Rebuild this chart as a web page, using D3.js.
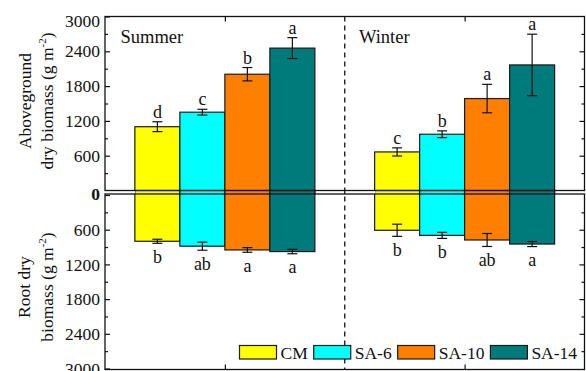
<!DOCTYPE html>
<html>
<head>
<meta charset="utf-8">
<script src="https://cdn.jsdelivr.net/npm/d3@7"></script>
<style>
  body { margin: 0; background: #fff; }
  text { font-family: "Liberation Serif", "Times New Roman", serif; fill: #111; }
</style>
</head>
<body>
<div id="chart"></div>
<script>
// data
var seasons = ["Summer", "Winter"];
var treatments = ["CM", "SA-6", "SA-10", "SA-14"];
var colors = ["#ffff00", "#00ffff", "#ff7f00", "#007b7b"];

var aboveSummer = [1100, 1350, 2005, 2455];
var aboveSummerErr = [85, 50, 115, 180];
var aboveSummerLetters = ["d", "c", "b", "a"];
var aboveWinter = [665, 970, 1585, 2165];
var aboveWinterErr = [70, 58, 245, 530];
var aboveWinterLetters = ["c", "b", "a", "a"];

var rootSummer = [800, 885, 950, 978];
var rootSummerErr = [35, 70, 40, 38];
var rootSummerLetters = ["b", "ab", "a", "a"];
var rootWinter = [610, 698, 778, 848];
var rootWinterErr = [105, 52, 112, 44];
var rootWinterLetters = ["b", "b", "ab", "a"];

var yTicks = [0, 600, 1200, 1800, 2400, 3000];
var yMinor = [300, 900, 1500, 2100, 2700];

var W = 586, H = 371;
var left = 105, right = 584.5;
var topY0 = 16.5, topY1 = 190.5;   // upper panel
var botY0 = 194, botY1 = 369.5;    // lower panel

var svg = d3.select("#chart").append("svg")
    .attr("width", W)
    .attr("height", H);

var x = d3.scaleBand().domain(seasons).range([left, right]);
var xInner = d3.scaleBand().domain(treatments).range([0, 180]);

var yTop = d3.scaleLinear().domain([0, 3000]).range([topY1, topY0]);
var yBot = d3.scaleLinear().domain([0, 3000]).range([195, 368.5]);

function groupX(s) { return x(s) + x.bandwidth() / 2 - 90; }

// build rows
var rows = [];
[[aboveSummer, aboveSummerErr, aboveSummerLetters, "Summer", "top"],
 [aboveWinter, aboveWinterErr, aboveWinterLetters, "Winter", "top"],
 [rootSummer, rootSummerErr, rootSummerLetters, "Summer", "bot"],
 [rootWinter, rootWinterErr, rootWinterLetters, "Winter", "bot"]].forEach(function(g) {
  g[0].forEach(function(v, i) {
    rows.push({season: g[3], panel: g[4], t: treatments[i], c: colors[i], v: v, e: g[1][i], l: g[2][i]});
  });
});

// dashed divider
svg.append("line")
  .attr("x1", x("Winter")).attr("x2", x("Winter"))
  .attr("y1", topY0).attr("y2", botY1)
  .attr("stroke", "#111").attr("stroke-width", 1.3)
  .attr("stroke-dasharray", "5,4");

// bars (they run through the gap between the panels)
svg.append("g").selectAll("rect")
  .data(rows)
  .enter().append("rect")
    .attr("x", function(d) { return groupX(d.season) + xInner(d.t); })
    .attr("width", xInner.bandwidth())
    .attr("y", function(d) { return d.panel == "top" ? yTop(d.v) : topY1; })
    .attr("height", function(d) { return d.panel == "top" ? botY0 - yTop(d.v) : yBot(d.v) - topY1; })
    .attr("fill", function(d) { return d.c; })
    .attr("stroke", "#1a1a1a")
    .attr("stroke-width", 1.2);

// white gap between panels
svg.append("rect").attr("x", left).attr("y", topY1).attr("width", 30).attr("height", botY0 - topY1).attr("fill", "#fff");
svg.append("rect").attr("x", 316.5).attr("y", topY1).attr("width", 58.5).attr("height", botY0 - topY1).attr("fill", "#fff");
svg.append("rect").attr("x", 557).attr("y", topY1).attr("width", right - 557).attr("height", botY0 - topY1).attr("fill", "#fff");
svg.append("line").attr("x1", x("Winter")).attr("x2", x("Winter")).attr("y1", topY1).attr("y2", botY0).attr("stroke", "#111").attr("stroke-width", 1.3);

// error bars
function ey(d, val) { return d.panel == "top" ? yTop(val) : yBot(val); }
var eb = svg.append("g").selectAll("g")
  .data(rows)
  .enter().append("g")
    .attr("transform", function(d) { return "translate(" + (groupX(d.season) + xInner(d.t) + xInner.bandwidth() / 2) + ",0)"; });
eb.append("line")
  .attr("y1", function(d) { return ey(d, d.v - d.e); })
  .attr("y2", function(d) { return ey(d, d.v + d.e); })
  .attr("stroke", "#111").attr("stroke-width", 1.2);
eb.append("line")
  .attr("x1", -5).attr("x2", 5)
  .attr("y1", function(d) { return ey(d, d.v - d.e); })
  .attr("y2", function(d) { return ey(d, d.v - d.e); })
  .attr("stroke", "#111").attr("stroke-width", 1.2);
eb.append("line")
  .attr("x1", -5).attr("x2", 5)
  .attr("y1", function(d) { return ey(d, d.v + d.e); })
  .attr("y2", function(d) { return ey(d, d.v + d.e); })
  .attr("stroke", "#111").attr("stroke-width", 1.2);

// significance letters
eb.append("text")
  .attr("text-anchor", "middle")
  .style("font-size", "18px")
  .attr("y", function(d) { return d.panel == "top" ? yTop(d.v + d.e) - 4 : yBot(d.v + d.e) + 19.5; })
  .text(function(d) { return d.l; });

// frames
svg.append("rect").attr("x", left).attr("y", topY0).attr("width", right - left).attr("height", topY1 - topY0)
  .attr("fill", "none").attr("stroke", "#111").attr("stroke-width", 1.3);
svg.append("rect").attr("x", left).attr("y", botY0).attr("width", right - left).attr("height", botY1 - botY0)
  .attr("fill", "none").attr("stroke", "#111").attr("stroke-width", 1.3);

// y axes
function styleAxis(g) {
  g.select(".domain").remove();
  g.selectAll(".tick line").attr("stroke", "#111").attr("stroke-width", 1.2);
  g.selectAll("text").style("font-size", "17.5px").attr("fill", "#111");
}
svg.append("g")
  .attr("transform", "translate(" + left + ",0)")
  .call(d3.axisLeft(yTop).tickValues(yTicks.slice(1)).tickSizeInner(-5).tickSizeOuter(0).tickPadding(5).tickFormat(d3.format("d")))
  .call(styleAxis)
  .call(function(g) { g.selectAll("text").filter(function(d) { return d == 3000; }).attr("dy", "0.55em"); });
svg.append("g")
  .attr("transform", "translate(" + left + ",0)")
  .call(d3.axisLeft(yBot).tickValues(yTicks).tickSizeInner(-5).tickSizeOuter(0).tickPadding(5).tickFormat(d3.format("d")))
  .call(styleAxis)
  .call(function(g) {
    g.selectAll("text").filter(function(d) { return d == 0; }).style("font-weight", "bold").attr("dy", "0.25em");
  });
[yTop, yBot].forEach(function(sc) {
  svg.append("g").attr("transform", "translate(" + left + ",0)")
    .call(d3.axisLeft(sc).tickValues(yMinor).tickSizeInner(-3).tickSizeOuter(0).tickFormat(""))
    .call(styleAxis);
  svg.append("g").attr("transform", "translate(" + right + ",0)")
    .call(d3.axisRight(sc).tickValues(yTicks.slice(1, 5)).tickSizeInner(-5).tickSizeOuter(0).tickFormat(""))
    .call(styleAxis);
  svg.append("g").attr("transform", "translate(" + right + ",0)")
    .call(d3.axisRight(sc).tickValues(yMinor).tickSizeInner(-3).tickSizeOuter(0).tickFormat(""))
    .call(styleAxis);
});

// x ticks at season centres
var xc = d3.scalePoint().domain(seasons).range([x("Summer") + x.bandwidth() / 2, x("Winter") + x.bandwidth() / 2]);
svg.append("g").attr("transform", "translate(0," + topY0 + ")")
  .call(d3.axisTop(xc).tickSizeInner(-5).tickSizeOuter(0).tickFormat(""))
  .call(styleAxis);
svg.append("g").attr("transform", "translate(0," + botY1 + ")")
  .call(d3.axisBottom(xc).tickSizeInner(-5).tickSizeOuter(0).tickFormat(""))
  .call(styleAxis);

// season labels
svg.append("text").attr("x", 120.5).attr("y", 43).style("font-size", "18.5px").text("Summer");
svg.append("text").attr("x", 359).attr("y", 43).style("font-size", "18.5px").text("Winter");

// y axis titles, two lines each, unit with superscript
function titleWithUnit(x1, line1, x2, line2, cy) {
  svg.append("text")
    .attr("text-anchor", "middle")
    .attr("transform", "translate(" + x1 + "," + cy + ") rotate(-90)")
    .style("font-size", "17.5px")
    .text(line1);
  var t = svg.append("text")
    .attr("text-anchor", "middle")
    .attr("transform", "translate(" + x2 + "," + cy + ") rotate(-90)")
    .style("font-size", "17.5px");
  t.append("tspan").text(line2);
  t.append("tspan").attr("dy", -7).style("font-size", "11px").text("-2");
  t.append("tspan").attr("dy", 7).text(")");
}
titleWithUnit(31, "Aboveground", 53, "dry biomass (g m", 101);
titleWithUnit(30, "Root dry", 53, "biomass (g m", 287);

// legend
var lg = svg.append("g");
var lx = 239.5;
treatments.forEach(function(t, i) {
  lg.append("rect").attr("x", lx).attr("y", 345.5).attr("width", 37).attr("height", 13.5)
    .attr("fill", colors[i]).attr("stroke", "#1a1a1a").attr("stroke-width", 1.2);
  var tx = lg.append("text").attr("x", lx + 41).attr("y", 358.5).style("font-size", "17.5px").text(t);
  lx = lx + 41 + tx.node().getComputedTextLength() + 6;
});
</script>
</body>
</html>
